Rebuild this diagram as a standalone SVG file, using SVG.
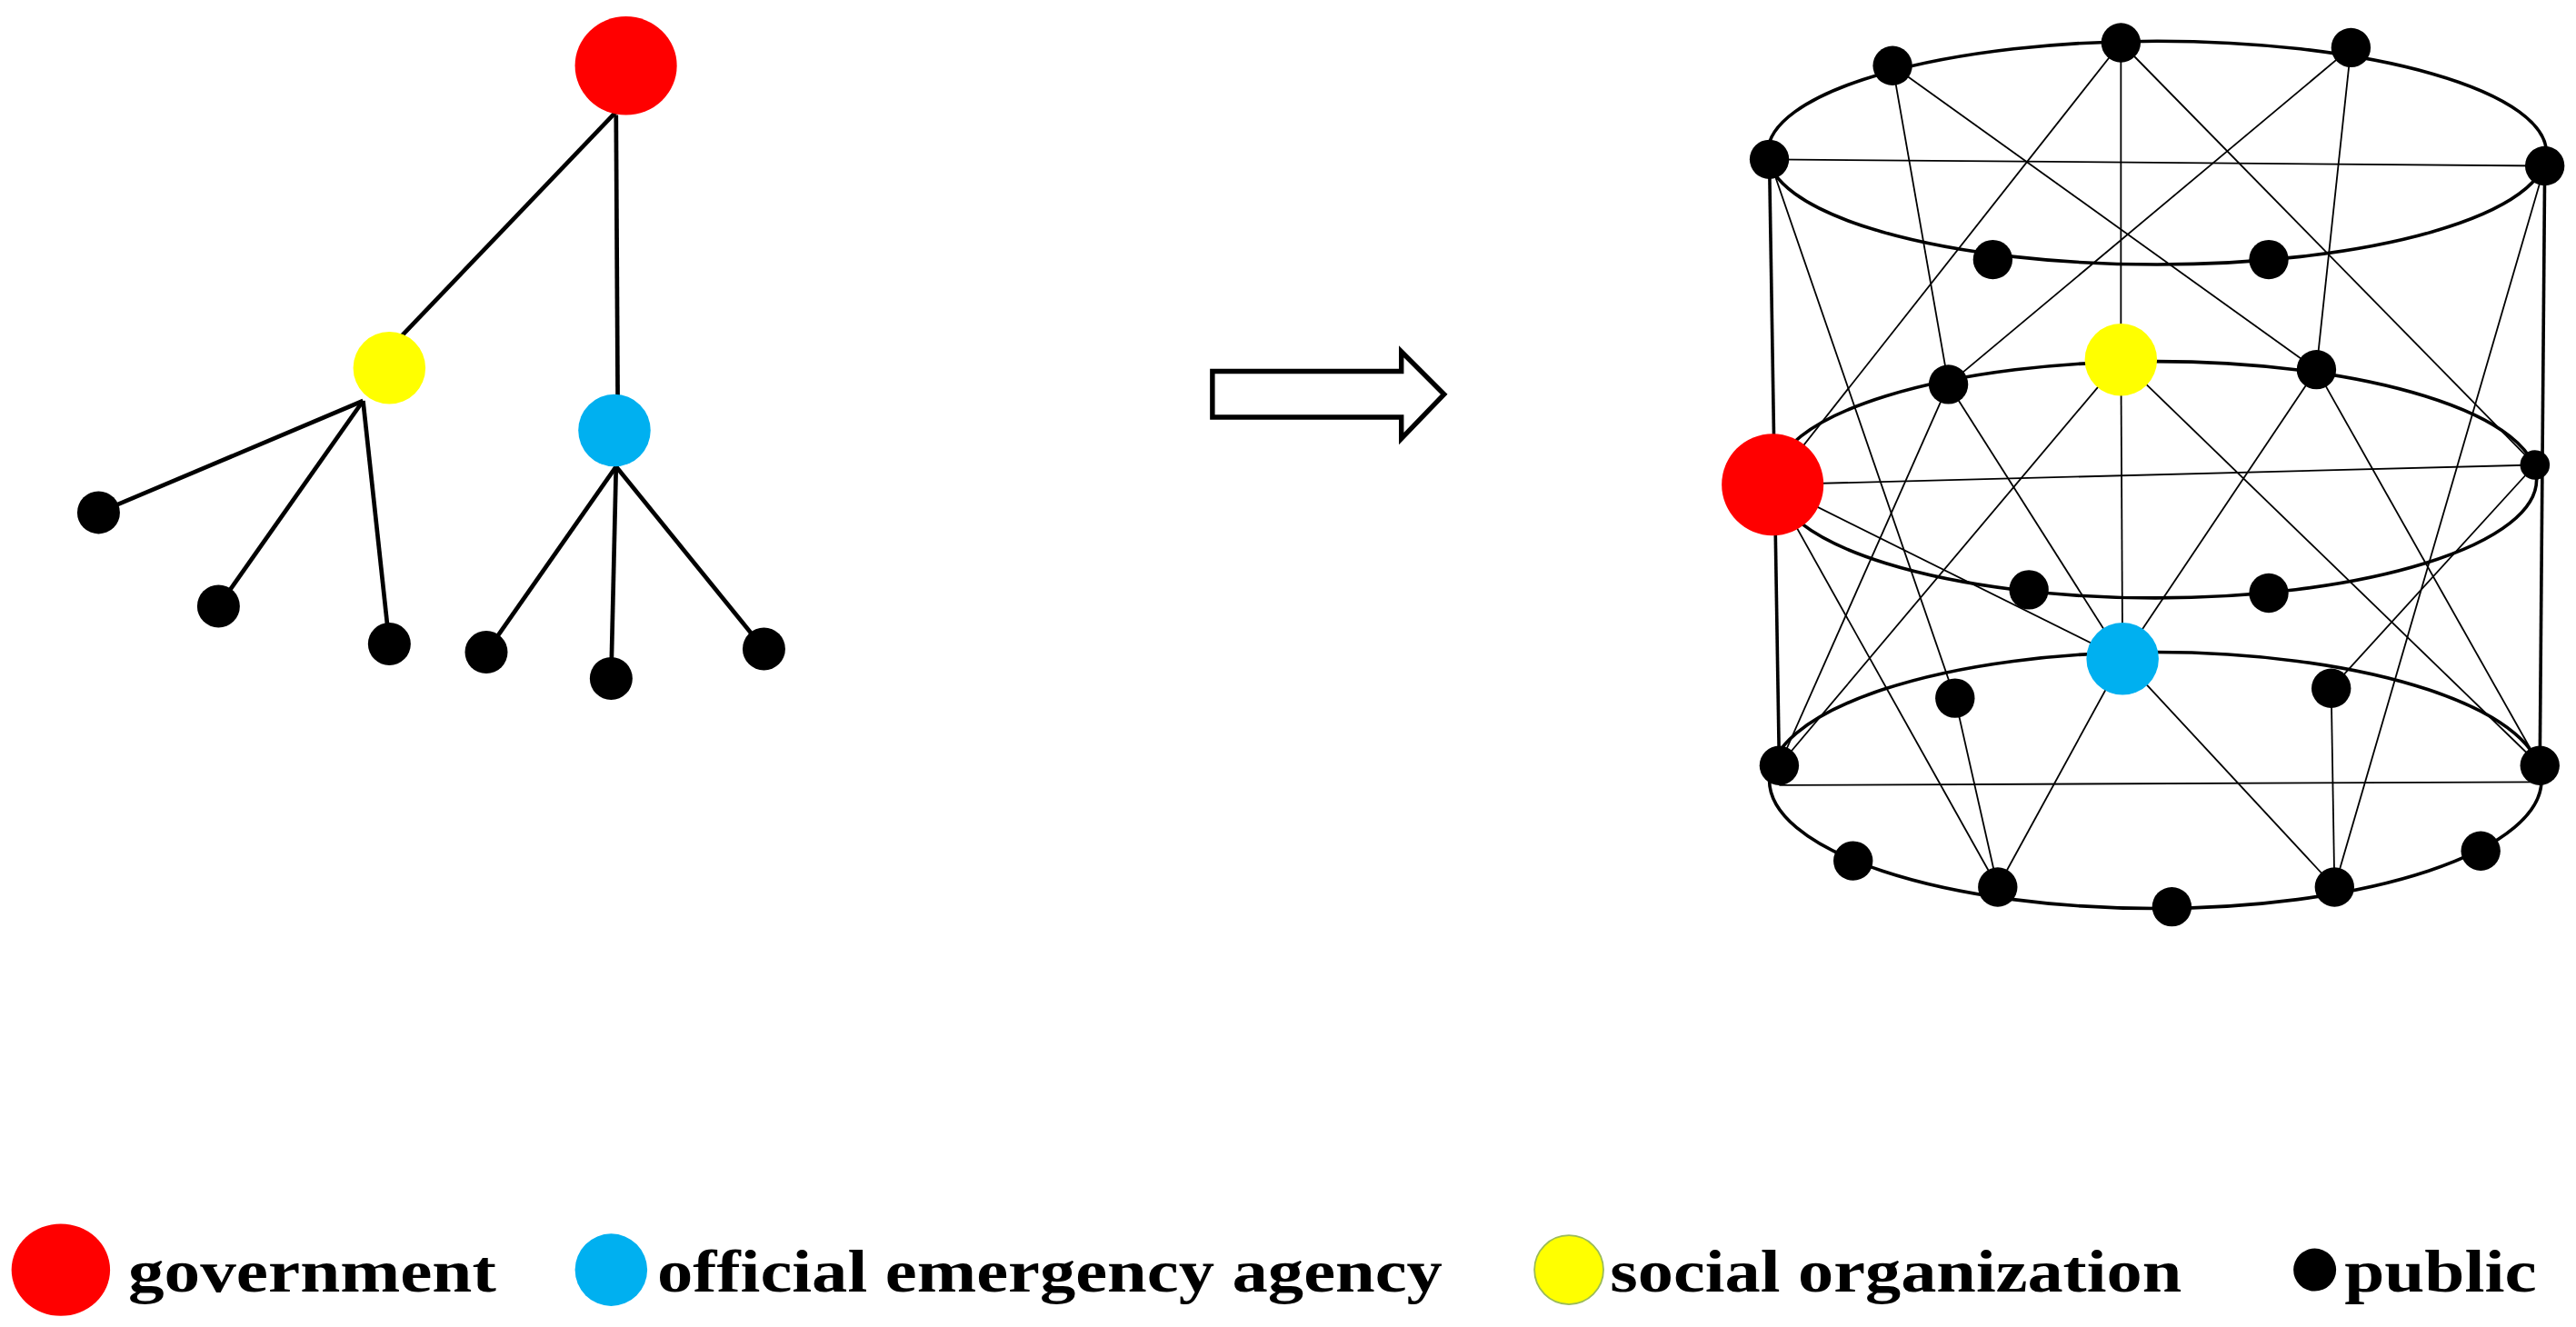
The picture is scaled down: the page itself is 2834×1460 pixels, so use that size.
<svg xmlns="http://www.w3.org/2000/svg" width="2834" height="1460" viewBox="0 0 2834 1460">
<style>
.e{stroke:#000;stroke-width:2.6;fill:none}
.t{stroke:#000;stroke-width:1;fill:none}
.r{stroke:#000;stroke-width:2;fill:none}
.k{fill:#000}
.lbl{font-family:"Liberation Serif",serif;font-weight:bold;font-size:36px;fill:#000}
</style>
<rect width="2834" height="1460" fill="#fff"/>
<g transform="scale(1.8074)">
<g id="tree-edges">
<line class="e" x1="378" y1="65" x2="243" y2="206"/>
<line class="e" x1="375" y1="70" x2="376" y2="242"/>
<line class="e" x1="221" y1="244" x2="60" y2="312"/>
<line class="e" x1="221" y1="244" x2="133" y2="369"/>
<line class="e" x1="221" y1="244" x2="237" y2="392"/>
<line class="e" x1="375" y1="284" x2="296" y2="397"/>
<line class="e" x1="375" y1="284" x2="372" y2="413"/>
<line class="e" x1="375" y1="284" x2="465" y2="395"/>
</g>
<g id="tree-gov"><ellipse cx="381" cy="40" rx="31" ry="30" fill="#ff0000"/></g>
<g id="tree-social"><circle cx="237" cy="224" r="22" fill="#ffff00"/></g>
<g id="tree-agency"><circle cx="374" cy="262" r="22" fill="#00b0f0"/></g>
<g id="tree-public">
<circle class="k" cx="60" cy="312" r="13"/><circle class="k" cx="133" cy="369" r="13"/><circle class="k" cx="237" cy="392" r="13"/>
<circle class="k" cx="296" cy="397" r="13"/><circle class="k" cx="372" cy="413" r="13"/><circle class="k" cx="465" cy="395" r="13"/>
</g>
<g id="arrow"><polygon points="738,226 853,226 853,214 879,240 853,267 853,254 738,254" fill="#fff" stroke="#000" stroke-width="3"/></g>
<g id="connectors">
<ellipse class="r" cx="1313" cy="93" rx="237" ry="68"/>
<ellipse class="r" cx="1312" cy="292" rx="232" ry="72"/>
<ellipse class="r" cx="1312" cy="475" rx="235" ry="78"/>
<line class="r" x1="1077" y1="97" x2="1083" y2="466"/>
<line class="r" x1="1549" y1="101" x2="1546" y2="466"/>
<line class="t" x1="1077" y1="97" x2="1549" y2="101"/>
<line class="t" x1="1079" y1="295" x2="1543" y2="283"/>
<line class="t" x1="1083" y1="478" x2="1546" y2="476"/>
<line class="t" x1="1152" y1="40" x2="1186" y2="234"/>
<line class="t" x1="1152" y1="40" x2="1410" y2="225"/>
<line class="t" x1="1291" y1="26" x2="1291" y2="219"/>
<line class="t" x1="1291" y1="26" x2="1079" y2="295"/>
<line class="t" x1="1291" y1="26" x2="1543" y2="283"/>
<line class="t" x1="1431" y1="29" x2="1186" y2="234"/>
<line class="t" x1="1431" y1="29" x2="1410" y2="225"/>
<line class="t" x1="1077" y1="97" x2="1190" y2="425"/>
<line class="t" x1="1549" y1="101" x2="1421" y2="540"/>
<line class="t" x1="1186" y1="234" x2="1292" y2="401"/>
<line class="t" x1="1410" y1="225" x2="1292" y2="401"/>
<line class="t" x1="1291" y1="219" x2="1292" y2="401"/>
<line class="t" x1="1291" y1="219" x2="1083" y2="466"/>
<line class="t" x1="1291" y1="219" x2="1546" y2="466"/>
<line class="t" x1="1186" y1="234" x2="1083" y2="466"/>
<line class="t" x1="1410" y1="225" x2="1546" y2="466"/>
<line class="t" x1="1079" y1="295" x2="1292" y2="401"/>
<line class="t" x1="1079" y1="295" x2="1216" y2="540"/>
<line class="t" x1="1543" y1="283" x2="1419" y2="419"/>
<line class="t" x1="1190" y1="425" x2="1216" y2="540"/>
<line class="t" x1="1292" y1="401" x2="1216" y2="540"/>
<line class="t" x1="1292" y1="401" x2="1421" y2="540"/>
<line class="t" x1="1419" y1="419" x2="1421" y2="540"/>
</g>
<g id="cyl-public" filter="none">
<circle class="k" cx="1152" cy="40" r="12"/><circle class="k" cx="1291" cy="26" r="12"/><circle class="k" cx="1431" cy="29" r="12"/>
<circle class="k" cx="1077" cy="97" r="12"/><circle class="k" cx="1549" cy="101" r="12"/><circle class="k" cx="1213" cy="158" r="12"/><circle class="k" cx="1381" cy="158" r="12"/>
<circle class="k" cx="1186" cy="234" r="12"/><circle class="k" cx="1410" cy="225" r="12"/><circle class="k" cx="1543" cy="283" r="9"/>
<circle class="k" cx="1235" cy="359" r="12"/><circle class="k" cx="1381" cy="361" r="12"/>
<circle class="k" cx="1190" cy="425" r="12"/><circle class="k" cx="1419" cy="419" r="12"/><circle class="k" cx="1083" cy="466" r="12"/><circle class="k" cx="1546" cy="466" r="12"/>
<circle class="k" cx="1128" cy="524" r="12"/><circle class="k" cx="1216" cy="540" r="12"/><circle class="k" cx="1322" cy="552" r="12"/><circle class="k" cx="1421" cy="540" r="12"/><circle class="k" cx="1510" cy="518" r="12"/>
</g>
<g id="cyl-gov"><circle cx="1079" cy="295" r="31" fill="#ff0000"/></g>
<g id="cyl-social"><circle cx="1291" cy="219" r="22" fill="#ffff00"/></g>
<g id="cyl-agency"><circle cx="1292" cy="401" r="22" fill="#00b0f0"/></g>
<g id="legend">
<ellipse cx="37" cy="773" rx="30" ry="28" fill="#ff0000"/>
<text class="lbl" x="78" y="786" textLength="224" lengthAdjust="spacingAndGlyphs">government</text>
<circle cx="372" cy="773" r="22" fill="#00b0f0"/>
<text class="lbl" x="400" y="786" textLength="478" lengthAdjust="spacingAndGlyphs">official emergency agency</text>
<circle cx="955" cy="773" r="21" fill="#ffff00" stroke="#9bbb59" stroke-width="1"/>
<text class="lbl" x="980" y="786" textLength="348" lengthAdjust="spacingAndGlyphs">social organization</text>
<circle cx="1409" cy="773" r="13" fill="#000"/>
<text class="lbl" x="1427" y="786" textLength="117" lengthAdjust="spacingAndGlyphs">public</text>
</g>
</g>
</svg>
